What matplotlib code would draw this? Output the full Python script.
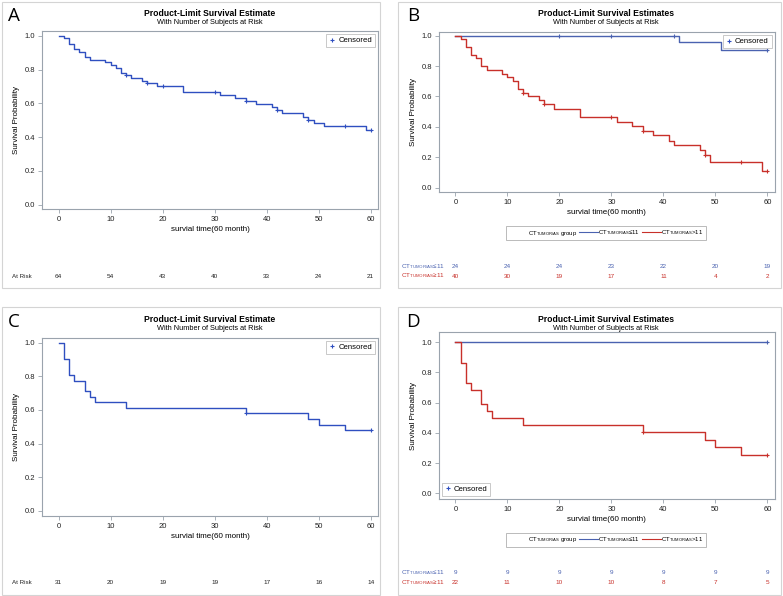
import numpy as np
import matplotlib
matplotlib.use("Agg")
import matplotlib.pyplot as plt
from matplotlib.lines import Line2D
from matplotlib.patches import Rectangle
import matplotlib.transforms as mtransforms

plt.rcParams['font.family'] = ['Liberation Sans', 'DejaVu Sans']
plt.rcParams['mathtext.fontset'] = 'custom'
plt.rcParams['mathtext.rm'] = 'Liberation Sans'

# ---- data ----
risk_times = [0, 10, 20, 30, 40, 50, 60]

# panel A (all patients)
a_t = [0, 1, 2, 3, 4, 5, 6, 9, 10, 11, 12, 13, 14, 16, 17, 19, 24, 31, 34, 36, 38, 41, 42, 43, 47, 48, 49, 51, 59, 60]
a_s = [1.0, 0.984, 0.953, 0.922, 0.906, 0.875, 0.859, 0.844, 0.828, 0.812, 0.781, 0.766, 0.75, 0.734, 0.718,
       0.70, 0.67, 0.652, 0.633, 0.615, 0.598, 0.58, 0.56, 0.54, 0.52, 0.50, 0.485, 0.465, 0.44, 0.44]
a_cens = [13, 17, 20, 30, 36, 42, 48, 55, 60]
a_risk = [64, 54, 43, 40, 33, 24, 21]

# panel B (two groups)
b1_t = [0, 43, 51, 60]
b1_s = [1.0, 0.955, 0.905, 0.905]
b1_cens = [20, 30, 42, 60]
b2_t = [0, 1, 2, 3, 4, 5, 6, 9, 10, 11, 12, 13, 14, 16, 17, 19, 24, 31, 34, 36, 38, 41, 42, 47, 48, 49, 59, 60]
b2_s = [1.0, 0.975, 0.925, 0.875, 0.85, 0.80, 0.775, 0.75, 0.725, 0.70, 0.65, 0.625, 0.60, 0.575, 0.55,
        0.52, 0.463, 0.435, 0.405, 0.375, 0.345, 0.31, 0.28, 0.25, 0.215, 0.17, 0.11, 0.11]
b2_cens = [13, 17, 30, 36, 48, 55, 60]
b1_risk = [24, 24, 24, 23, 22, 20, 19]
b2_risk = [40, 30, 19, 17, 11, 4, 2]

# panel C
c_t = [0, 1, 2, 3, 5, 6, 7, 13, 36, 48, 50, 55, 60]
c_s = [1.0, 0.903, 0.806, 0.774, 0.71, 0.677, 0.645, 0.613, 0.58, 0.546, 0.513, 0.478, 0.478]
c_cens = [36, 60]
c_risk = [31, 20, 19, 19, 17, 16, 14]

# panel D
d1_t = [0, 60]
d1_s = [1.0, 1.0]
d1_cens = [60]
d2_t = [0, 1, 2, 3, 5, 6, 7, 13, 36, 48, 50, 55, 60]
d2_s = [1.0, 0.864, 0.727, 0.682, 0.59, 0.545, 0.5, 0.455, 0.405, 0.355, 0.305, 0.256, 0.256]
d2_cens = [36, 60]
d1_risk = [9, 9, 9, 9, 9, 9, 9]
d2_risk = [22, 11, 10, 10, 8, 7, 5]

BLUE1 = '#2f4fc0'
BLUE = '#4a62b0'
RED = '#c8302a'
GRAY = '#9aa3ad'
SUB = r'$_{\mathrm{TUMOR/AS}}$'

W, H = 783, 596
fig = plt.figure(figsize=(W / 100, H / 100), dpi=100)


def fx(px):
    return px / W


def fy(py):
    return 1 - py / H


def surv_at(t, s, x):
    i = np.searchsorted(t, x, side='right') - 1
    return s[i]


def km(ax, t, s, cens, color):
    ax.plot(t, s, drawstyle='steps-post', color=color, lw=1.0)
    cy = [surv_at(t, s, c) for c in cens]
    ax.plot(cens, cy, ls='none', marker='+', ms=3.5, mew=0.8, color=color)


def make_axes(l, r, top, bot, ylim):
    ax = fig.add_axes([fx(l), fy(bot), fx(r - l), (bot - top) / H])
    ax.set_xlim(-3.2, 61.4)
    ax.set_ylim(*ylim)
    ax.set_xticks(risk_times)
    ax.set_yticks([0, 0.2, 0.4, 0.6, 0.8, 1.0])
    ax.set_yticklabels(['0.0', '0.2', '0.4', '0.6', '0.8', '1.0'])
    for sp in ax.spines.values():
        sp.set_color(GRAY)
        sp.set_linewidth(0.8)
    ax.tick_params(labelsize=5.5, colors='#222222', length=3, width=0.6, color=GRAY, pad=2)
    ax.set_xlabel('survial time(60 month)', fontsize=5.8, labelpad=2)
    ax.set_ylabel('Survival Probability', fontsize=5.8, labelpad=3)
    return ax


def titles(xc, y0):
    fig.text(fx(xc), fy(y0), 'Product-Limit Survival Estimate' if xc < 390 else 'Product-Limit Survival Estimates',
             ha='center', va='center', fontsize=6.2, fontweight='bold')
    fig.text(fx(xc), fy(y0 + 9.5), 'With Number of Subjects at Risk', ha='center', va='center', fontsize=5.3)


def censor_legend(ax, loc):
    h = Line2D([], [], ls='none', marker='+', ms=3.5, mew=0.8, color=BLUE1)
    leg = ax.legend([h], ['Censored'], loc=loc, fontsize=5.6, fancybox=False, framealpha=1,
                    edgecolor='#c0c0c0', handlelength=0.8, handletextpad=0.4, borderpad=0.35,
                    borderaxespad=0.4)
    leg.get_frame().set_linewidth(0.6)


def group_legend(yc):
    hs = [Line2D([], [], alpha=0), Line2D([], [], color=BLUE, lw=0.8), Line2D([], [], color=RED, lw=0.8)]
    labels = ['CT' + SUB + ' group', 'CT' + SUB + '≤11', 'CT' + SUB + '>11']
    leg = fig.legend(hs, labels, loc='center', bbox_to_anchor=(fx(606), fy(yc)), ncol=3, fontsize=4.3,
                     fancybox=False, framealpha=1, edgecolor='#b0b0b0', handlelength=3.2,
                     handletextpad=0.05, columnspacing=0.3, borderpad=0.35, borderaxespad=0)
    leg.get_frame().set_linewidth(0.6)


def risk_row(ax, y, vals, color, label, label_x):
    tr = mtransforms.blended_transform_factory(ax.transData, fig.transFigure)
    for x, v in zip(risk_times, vals):
        ax.text(x, fy(y), str(v), transform=tr, ha='center', va='center', fontsize=4.6, color=color)
    fig.text(fx(label_x), fy(y), label, ha='center', va='center', fontsize=4.5, color=color)


# panel borders
for (x0, y0, x1, y1) in [(2, 2, 380, 288), (398, 2, 781, 288), (2, 307, 380, 595), (398, 307, 781, 595)]:
    fig.patches.append(Rectangle((fx(x0), fy(y1)), fx(x1 - x0), (y1 - y0) / H, transform=fig.transFigure,
                                 fill=False, edgecolor='#d4d4d4', lw=0.8))

# ---- A ----
axA = make_axes(42, 378, 31, 209, (-0.025, 1.028))
km(axA, a_t, a_s, a_cens, BLUE1)
censor_legend(axA, 'upper right')
titles(210, 13)
risk_row(axA, 277, a_risk, '#222222', 'At Risk', 22)

# ---- B ----
axB = make_axes(438.7, 774.7, 32, 192, (-0.028, 1.024))
km(axB, b1_t, b1_s, b1_cens, BLUE)
km(axB, b2_t, b2_s, b2_cens, RED)
censor_legend(axB, 'upper right')
titles(606, 13)
group_legend(233)
risk_row(axB, 267, b1_risk, BLUE, 'CT' + SUB + '≤11', 423)
risk_row(axB, 276, b2_risk, RED, 'CT' + SUB + '≥11', 423)

# ---- C ----
axC = make_axes(42, 378, 337.7, 516, (-0.031, 1.03))
km(axC, c_t, c_s, c_cens, BLUE1)
censor_legend(axC, 'upper right')
titles(210, 319)
risk_row(axC, 583, c_risk, '#222222', 'At Risk', 22)

# ---- D ----
axD = make_axes(438.7, 774.7, 332, 499, (-0.038, 1.068))
km(axD, d1_t, d1_s, d1_cens, BLUE)
km(axD, d2_t, d2_s, d2_cens, RED)
censor_legend(axD, 'lower left')
titles(606, 319)
group_legend(540)
risk_row(axD, 573, d1_risk, BLUE, 'CT' + SUB + '≤11', 423)
risk_row(axD, 583, d2_risk, RED, 'CT' + SUB + '≥11', 423)

# panel letters
for lab, x, y in [('A', 14, 16), ('B', 413, 16), ('C', 14, 322), ('D', 413, 322)]:
    fig.text(fx(x), fy(y), lab, ha='center', va='center', fontsize=13.5, family='Open Sans')

fig.savefig('out.png', dpi=100)
